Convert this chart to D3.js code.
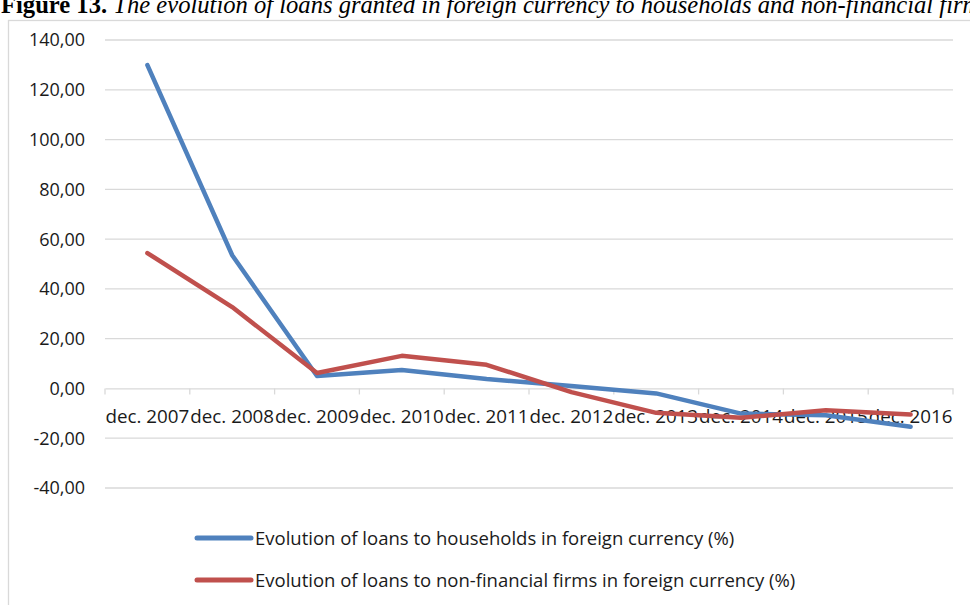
<!DOCTYPE html>
<html>
<head>
<meta charset="utf-8">
<script src="https://cdn.jsdelivr.net/npm/d3@7"></script>
<style>
  html, body { margin: 0; padding: 0; background: #fff; }
  svg { display: block; }
</style>
</head>
<body>
<svg id="chart" width="970" height="605"></svg>
<script>
const categories = ["dec. 2007","dec. 2008","dec. 2009","dec. 2010","dec. 2011","dec. 2012","dec. 2013","dec. 2014","dec. 2015","dec. 2016"];
const households = [129.9, 53.5, 5.0, 7.4, 3.8, 1.0, -2.0, -10.1, -10.8, -15.4];
const firms = [54.4, 32.7, 6.2, 13.1, 9.5, -1.5, -9.8, -11.8, -8.8, -10.5];
const yTicks = [-40, -20, 0, 20, 40, 60, 80, 100, 120, 140];
const seriesNames = [
  "Evolution of loans to households in foreign currency (%)",
  "Evolution of loans to non-financial firms in foreign currency (%)"
];
const seriesColors = ["#4F81BD", "#C0504D"];
const titleBold = "Figure 13.";
const titleItalic = " The evolution of loans granted in foreign currency to households and non-financial firms";

const svg = d3.select("#chart");
const font = "'Open Sans', 'Noto Sans', sans-serif";

// title (cut at top as in the reference)
const title = svg.append("text").attr("x", 1).attr("y", 13)
  .attr("font-family", "'Liberation Serif', 'Times New Roman', serif")
  .attr("font-size", 24.6).attr("fill", "#000");
title.append("tspan").attr("font-weight", "bold").text(titleBold);
title.append("tspan").attr("font-style", "italic").text(titleItalic);

// chart border
svg.append("rect").attr("x", 8.5).attr("y", 20.5).attr("width", 1000).attr("height", 700)
  .attr("fill", "none").attr("stroke", "#D9D9D9").attr("stroke-width", 1.3);

const x = d3.scaleBand().domain(categories).range([105, 953]);
const y = d3.scaleLinear().domain([-40, 140]).range([488, 40]);

// gridlines
svg.append("g").selectAll("line").data(yTicks.filter(d => d !== 0)).join("line")
  .attr("x1", 105).attr("x2", 953)
  .attr("y1", d => y(d)).attr("y2", d => y(d))
  .attr("stroke", "#D9D9D9").attr("stroke-width", 1.3);

// y axis labels
const fmt = d => d3.format(".2f")(d).replace(".", ",").replace("−", "-");
svg.append("g").selectAll("text").data(yTicks).join("text")
  .attr("x", 85).attr("y", d => y(d)).attr("dy", "0.36em")
  .attr("text-anchor", "end")
  .attr("font-family", font).attr("font-size", 18).attr("fill", "#1a1a1a")
  .text(fmt);

// category axis at zero
const xAxis = d3.axisBottom(x).tickSize(0).tickFormat("");
const gx = svg.append("g").attr("transform", `translate(0,${y(0)})`).call(xAxis);
gx.select(".domain").attr("stroke", "#D9D9D9").attr("stroke-width", 1.3);
const bounds = categories.map(c => x(c)).concat([x.range()[1]]);
svg.append("g").selectAll("line").data(bounds).join("line")
  .attr("x1", d => d).attr("x2", d => d)
  .attr("y1", y(0)).attr("y2", y(0) + 6)
  .attr("stroke", "#D9D9D9").attr("stroke-width", 1.3);
svg.append("g").selectAll("text").data(categories).join("text")
  .attr("x", d => x(d) + x.bandwidth() / 2).attr("y", 423)
  .attr("text-anchor", "middle")
  .attr("font-family", font).attr("font-size", 18.5).attr("fill", "#1a1a1a")
  .attr("textLength", x.bandwidth() - 1).attr("lengthAdjust", "spacingAndGlyphs")
  .text(d => d);

// lines
const line = d3.line().x((d, i) => x(categories[i]) + x.bandwidth() / 2).y(d => y(d));
[households, firms].forEach((s, k) => {
  svg.append("path").datum(s)
    .attr("d", line)
    .attr("fill", "none").attr("stroke", seriesColors[k])
    .attr("stroke-width", 4.5).attr("stroke-linejoin", "round").attr("stroke-linecap", "round");
});

// legend
const legendY = [538, 580];
seriesNames.forEach((name, k) => {
  svg.append("line").attr("x1", 197).attr("x2", 251)
    .attr("y1", legendY[k]).attr("y2", legendY[k])
    .attr("stroke", seriesColors[k]).attr("stroke-width", 5).attr("stroke-linecap", "round");
  svg.append("text").attr("x", 255).attr("y", legendY[k]).attr("dy", "0.36em")
    .attr("font-family", font).attr("font-size", 18.5).attr("fill", "#1a1a1a")
    .text(name);
});
</script>
</body>
</html>
